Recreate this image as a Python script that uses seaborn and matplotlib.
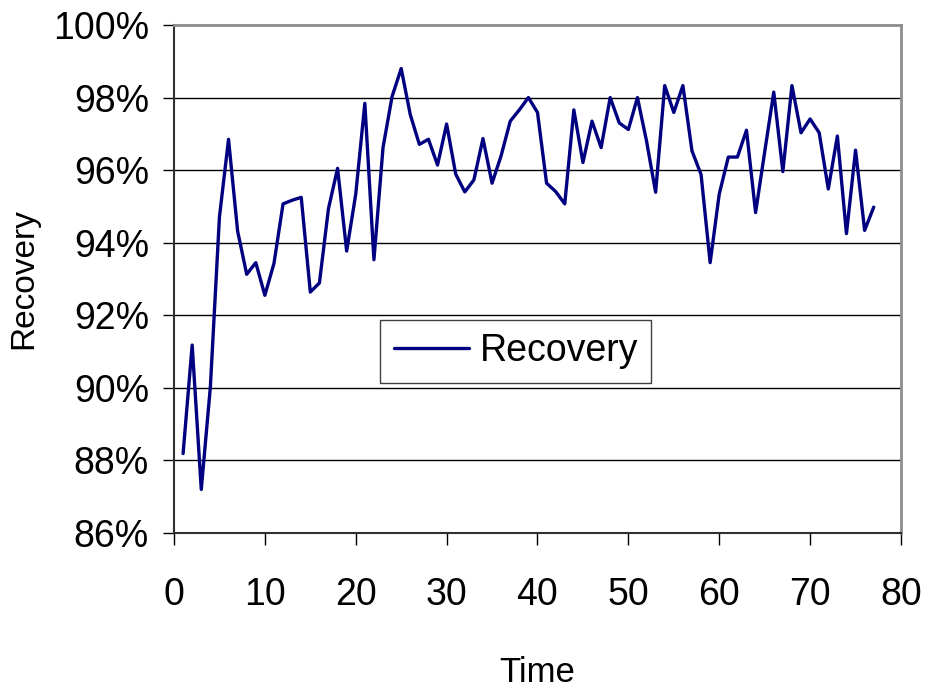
import numpy as np
import pandas as pd
import matplotlib
matplotlib.use("Agg")
import matplotlib.pyplot as plt
import seaborn as sns
from matplotlib.ticker import FuncFormatter

time = list(range(1, 78))
recovery = [
    88.19, 91.18, 87.20, 90.02, 94.71, 96.85, 94.32, 93.13, 93.45, 92.55,
    93.43, 95.07, 95.17, 95.25, 92.64, 92.89, 94.94, 96.05, 93.77, 95.34,
    97.84, 93.53, 96.62, 98.03, 98.80, 97.53, 96.71, 96.85, 96.14, 97.27,
    95.89, 95.40, 95.73, 96.87, 95.64, 96.40, 97.35, 97.66, 98.00, 97.59,
    95.64, 95.41, 95.07, 97.66, 96.21, 97.35, 96.62, 98.00, 97.30, 97.12,
    98.00, 96.80, 95.39, 98.33, 97.59, 98.33, 96.53, 95.88, 93.45, 95.34,
    96.36, 96.36, 97.10, 94.83, 96.50, 98.15, 95.96, 98.33, 97.03, 97.41,
    97.03, 95.48, 96.94, 94.25, 96.55, 94.34, 94.98,
]
x_ticks = [0, 10, 20, 30, 40, 50, 60, 70, 80]
y_ticks = [86, 88, 90, 92, 94, 96, 98, 100]

df = pd.DataFrame({"Time": time, "Recovery": recovery})

sns.set_style("white")
plt.rcParams["font.family"] = ["Liberation Sans", "DejaVu Sans"]
plt.rcParams["text.color"] = "black"
plt.rcParams["axes.labelcolor"] = "black"
plt.rcParams["xtick.color"] = "black"
plt.rcParams["ytick.color"] = "black"

fig = plt.figure(figsize=(9.30, 6.94), dpi=100)
ax = fig.add_axes([0.1871, 0.232, 0.9688 - 0.1871, 0.964 - 0.232])

sns.lineplot(data=df, x="Time", y="Recovery", ax=ax, color="#000080",
             linewidth=2.4, label="Recovery")

ax.set_xlim(0, 80)
ax.set_ylim(86, 100)
ax.set_xticks(x_ticks)
ax.set_yticks(y_ticks)
ax.yaxis.set_major_formatter(FuncFormatter(lambda v, p: f"{v:.0f}%"))

for yv in y_ticks[1:-1]:
    ax.axhline(yv, color="#000000", linewidth=1.0, zorder=0)

ax.tick_params(axis="x", direction="out", length=8.5, width=1.0,
               colors="black", labelsize=27, pad=23, bottom=True)
ax.tick_params(axis="y", direction="out", length=8, width=1.0,
               colors="black", labelsize=27, pad=10, left=True)

for side in ["left", "bottom"]:
    ax.spines[side].set_color("#303030")
    ax.spines[side].set_linewidth(1.5)
for side in ["top", "right"]:
    ax.spines[side].set_color("#8c8c8c")
    ax.spines[side].set_linewidth(2.0)

ax.set_xlabel("Time", fontsize=25, labelpad=31, color="black")
ax.set_ylabel("Recovery", fontsize=24, labelpad=10, color="black")

leg = ax.legend(loc="lower left", bbox_to_anchor=(0.284, 0.296),
                fontsize=27, frameon=True, fancybox=False, shadow=False,
                handlelength=2.0, handletextpad=0.3, borderpad=0.35,
                borderaxespad=0)
leg.get_frame().set_edgecolor("#404040")
leg.get_frame().set_linewidth(1.0)
leg.get_frame().set_alpha(1)
for txt in leg.get_texts():
    txt.set_color("black")

fig.savefig("out.png", dpi=100)
